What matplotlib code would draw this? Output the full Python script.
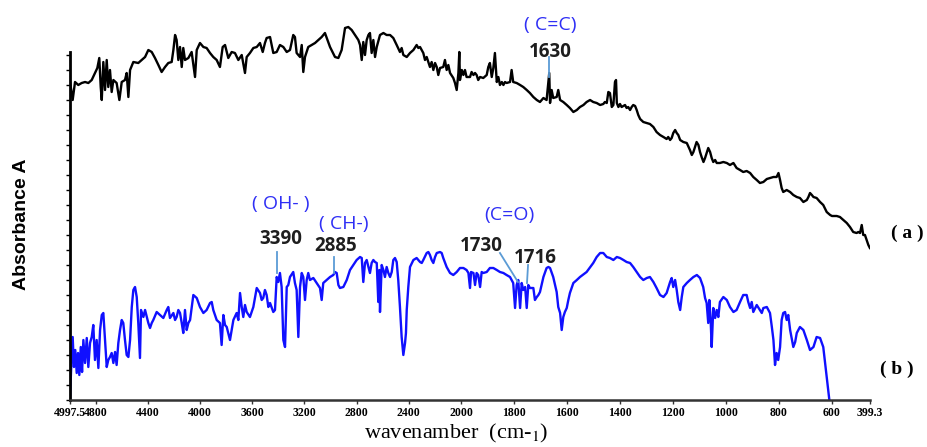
import numpy as np
import matplotlib
matplotlib.use("Agg")
import matplotlib.pyplot as plt

# FTIR spectra, absorbance in arbitrary units (a: black, b: blue)
wn_a = [4997, 4977, 4959, 4934, 4908, 4882, 4857, 4831, 4806, 4788, 4773, 4762, 4754, 4742, 4729, 4716,
        4704, 4691, 4678, 4665, 4640, 4619, 4601, 4576, 4563, 4550, 4537, 4512, 4474, 4448, 4422, 4397,
        4371, 4346, 4320, 4295, 4269, 4244, 4218, 4205, 4192, 4180, 4167, 4154, 4141, 4129, 4116, 4090,
        4065, 4039, 4026, 4001, 3975, 3950, 3924, 3899, 3873, 3848, 3827, 3809, 3784, 3758, 3733, 3707,
        3681, 3656, 3643, 3618, 3592, 3566, 3541, 3520, 3503, 3490, 3464, 3439, 3413, 3388, 3362, 3336,
        3311, 3286, 3273, 3260, 3234, 3221, 3209, 3196, 3171, 3145, 3119, 3094, 3068, 3043, 3004, 2966,
        2940, 2915, 2889, 2864, 2838, 2813, 2787, 2774, 2761, 2749, 2736, 2723, 2710, 2698, 2685, 2672,
        2659, 2646, 2621, 2595, 2570, 2544, 2519, 2493, 2468, 2455, 2442, 2416, 2391, 2365, 2340, 2327,
        2314, 2289, 2276, 2263, 2238, 2225, 2212, 2199, 2186, 2174, 2161, 2136, 2123, 2110, 2097, 2084,
        2059, 2046, 2033, 2020, 2013, 2008, 1997, 1991, 1985, 1979, 1966, 1960, 1953, 1947, 1941, 1935,
        1928, 1916, 1903, 1897, 1891, 1884, 1878, 1872, 1868, 1865, 1859, 1853, 1846, 1840, 1834, 1828,
        1815, 1809, 1803, 1790, 1777, 1765, 1752, 1740, 1727, 1714, 1702, 1689, 1677, 1667, 1664, 1658,
        1652, 1639, 1633, 1626, 1614, 1601, 1589, 1576, 1563, 1551, 1538, 1526, 1513, 1501, 1488, 1475,
        1463, 1457, 1450, 1444, 1438, 1431, 1425, 1419, 1415, 1412, 1406, 1400, 1394, 1381, 1375, 1369,
        1362, 1356, 1350, 1343, 1337, 1331, 1324, 1312, 1299, 1287, 1274, 1262, 1249, 1236, 1224, 1218,
        1211, 1205, 1199, 1192, 1186, 1180, 1173, 1161, 1148, 1136, 1129, 1123, 1117, 1111, 1104, 1098,
        1092, 1085, 1079, 1073, 1067, 1060, 1054, 1048, 1041, 1035, 1023, 1010, 997, 985, 972, 960,
        947, 935, 922, 909, 897, 884, 872, 859, 846, 834, 821, 809, 802, 796, 790, 784,
        771, 758, 746, 733, 721, 708, 695, 689, 683, 676, 670, 658, 645, 633, 620, 607,
        600, 593, 575, 558, 540, 522, 505, 488, 470, 461, 452, 443, 435, 426, 417, 408, 400]
abs_a = [318, 300, 318, 315, 317, 318, 317, 320, 327, 332, 342, 313, 300, 338, 310, 340,
         313, 330, 308, 320, 317, 300, 318, 320, 327, 303, 330, 338, 337, 340, 343, 350,
         348, 342, 335, 328, 333, 337, 338, 350, 365, 360, 340, 353, 333, 352, 340, 342,
         348, 323, 350, 357, 353, 352, 347, 343, 340, 333, 353, 355, 342, 348, 347, 340,
         345, 327, 343, 347, 352, 353, 357, 348, 357, 362, 363, 347, 348, 355, 353, 348,
         350, 365, 363, 347, 343, 355, 328, 343, 353, 355, 357, 360, 363, 367, 353, 343,
         342, 350, 372, 373, 370, 365, 360, 355, 340, 358, 345, 360, 365, 367, 347, 360,
         343, 353, 365, 367, 365, 365, 362, 355, 348, 352, 345, 343, 347, 350, 355, 352,
         353, 347, 340, 343, 333, 338, 330, 337, 333, 325, 332, 333, 340, 330, 335, 327,
         322, 317, 310, 327, 348, 320, 330, 325, 330, 323, 323, 328, 325, 327, 325, 320,
         323, 322, 325, 333, 337, 323, 332, 347, 330, 318, 323, 315, 318, 315, 318, 317,
         318, 330, 318, 317, 315, 313, 310, 307, 303, 300, 298, 302, 300, 327, 297, 310,
         302, 303, 310, 300, 298, 295, 292, 288, 290, 293, 295, 298, 300, 298, 297, 295,
         296, 298, 297, 308, 307, 293, 295, 318, 320, 297, 293, 296, 293, 295, 292, 293,
         290, 293, 295, 294, 290, 285, 281, 278, 277, 276, 273, 268, 265, 263, 261, 263,
         260, 262, 267, 270, 267, 265, 260, 258, 257, 250, 245, 248, 253, 258, 255, 248,
         243, 238, 242, 247, 252, 248, 242, 238, 240, 237, 237, 238, 237, 235, 237, 232,
         230, 228, 229, 227, 223, 220, 217, 218, 221, 222, 223, 223, 227, 220, 212, 208,
         210, 208, 205, 203, 202, 198, 200, 203, 207, 205, 203, 202, 198, 195, 188, 185,
         184, 184, 184, 183, 180, 177, 173, 168, 167, 168, 167, 175, 165, 165, 160, 155, 152]

wn_b = [4997.5, 4990, 4977, 4967, 4957, 4946, 4936, 4926, 4915, 4905, 4895, 4882, 4869, 4857, 4844, 4831,
        4819, 4806, 4793, 4780, 4767, 4754, 4742, 4729, 4716, 4704, 4691, 4678, 4665, 4652, 4640, 4627,
        4614, 4601, 4589, 4576, 4563, 4550, 4537, 4524, 4512, 4499, 4486, 4474, 4461, 4453, 4435, 4422,
        4409, 4397, 4384, 4371, 4359, 4333, 4307, 4282, 4256, 4244, 4231, 4205, 4192, 4180, 4167, 4154,
        4141, 4129, 4116, 4103, 4090, 4077, 4052, 4026, 4001, 3975, 3950, 3924, 3911, 3899, 3873, 3848,
        3835, 3822, 3809, 3796, 3771, 3758, 3745, 3720, 3707, 3694, 3681, 3669, 3656, 3643, 3618, 3592,
        3566, 3541, 3528, 3516, 3503, 3490, 3477, 3464, 3439, 3426, 3413, 3401, 3388, 3375, 3362, 3349,
        3336, 3324, 3311, 3286, 3273, 3260, 3247, 3234, 3221, 3209, 3196, 3183, 3171, 3158, 3132, 3106,
        3081, 3068, 3056, 3030, 3004, 2979, 2966, 2953, 2940, 2928, 2902, 2876, 2851, 2825, 2800, 2774,
        2761, 2749, 2736, 2723, 2710, 2698, 2685, 2672, 2659, 2646, 2634, 2626, 2621, 2608, 2595, 2583,
        2570, 2557, 2544, 2531, 2519, 2506, 2493, 2481, 2468, 2455, 2442, 2429, 2422, 2416, 2404, 2391,
        2365, 2340, 2314, 2301, 2289, 2263, 2250, 2238, 2225, 2212, 2199, 2186, 2161, 2148, 2136, 2110,
        2084, 2059, 2033, 2008, 1991, 1979, 1972, 1966, 1962, 1953, 1947, 1941, 1935, 1928, 1922, 1916,
        1903, 1891, 1878, 1865, 1853, 1840, 1828, 1815, 1803, 1796, 1790, 1784, 1777, 1771, 1765, 1758,
        1752, 1746, 1740, 1727, 1721, 1714, 1708, 1702, 1689, 1677, 1670, 1664, 1652, 1639, 1633, 1626,
        1620, 1614, 1608, 1601, 1595, 1589, 1576, 1563, 1551, 1526, 1501, 1488, 1475, 1463, 1450, 1438,
        1425, 1412, 1400, 1387, 1375, 1362, 1350, 1337, 1324, 1312, 1299, 1287, 1274, 1262, 1249, 1236,
        1224, 1211, 1205, 1199, 1192, 1186, 1180, 1173, 1167, 1161, 1148, 1136, 1123, 1110, 1098, 1086,
        1079, 1073, 1067, 1063, 1058, 1054, 1048, 1041, 1035, 1029, 1023, 1010, 997, 985, 972, 960,
        947, 935, 922, 916, 909, 903, 897, 884, 872, 865, 859, 846, 834, 827, 821, 815,
        809, 803, 796, 790, 784, 777, 771, 765, 758, 746, 739, 733, 721, 708, 695, 683,
        670, 658, 645, 633, 620, 614, 610]
abs_b = [2, 27, 63, 33, 50, 27, 47, 25, 53, 28, 60, 37, 62, 33, 57, 63,
         75, 40, 60, 32, 70, 85, 87, 60, 33, 40, 43, 47, 37, 48, 35, 57,
         70, 80, 77, 60, 45, 43, 60, 93, 110, 113, 103, 77, 42, 90, 83, 90,
         83, 77, 72, 77, 80, 88, 85, 82, 90, 93, 82, 87, 80, 83, 90, 87,
         77, 67, 90, 70, 77, 80, 105, 102, 93, 87, 90, 97, 98, 90, 80, 77,
         55, 85, 75, 73, 60, 70, 80, 87, 80, 107, 93, 83, 95, 88, 83, 93,
         112, 107, 100, 102, 110, 105, 93, 97, 88, 90, 123, 118, 127, 113, 60, 53,
         113, 115, 123, 128, 117, 110, 63, 113, 127, 123, 100, 120, 127, 120, 122, 117,
         112, 100, 117, 120, 123, 125, 128, 127, 115, 112, 113, 120, 130, 135, 140, 143,
         142, 118, 137, 140, 133, 127, 137, 140, 138, 137, 98, 130, 88, 135, 130, 123,
         133, 127, 123, 128, 140, 142, 138, 120, 93, 63, 45, 57, 67, 90, 113, 133,
         140, 142, 138, 137, 140, 147, 148, 145, 140, 137, 143, 147, 148, 147, 142, 133,
         127, 125, 128, 132, 132, 130, 127, 112, 128, 127, 115, 127, 125, 113, 128, 127,
         128, 132, 132, 130, 128, 127, 125, 123, 117, 92, 115, 120, 92, 117, 110, 113,
         92, 115, 112, 112, 100, 103, 105, 108, 123, 132, 133, 132, 123, 108, 93, 87,
         70, 83, 88, 92, 100, 107, 117, 120, 123, 128, 137, 143, 147, 147, 143, 142,
         140, 143, 142, 140, 138, 137, 133, 128, 123, 120, 122, 123, 118, 112, 105, 103,
         107, 118, 122, 113, 120, 110, 98, 90, 103, 113, 117, 120, 123, 125, 122, 113,
         102, 97, 77, 100, 80, 53, 92, 82, 90, 83, 98, 103, 100, 93, 88, 90,
         98, 105, 105, 98, 92, 98, 88, 95, 90, 87, 92, 93, 87, 73, 60, 35,
         47, 40, 53, 80, 87, 88, 80, 85, 70, 53, 58, 67, 73, 70, 60, 50,
         53, 63, 62, 53, 23, 10, 0]

tick_vals = [4997.5, 4800, 4400, 4000, 3600, 3200, 2800, 2400, 2000,
             1800, 1600, 1400, 1200, 1000, 800, 600, 399.3]
tick_labels = ["4997.5", "4800", "4400", "4000", "3600", "3200", "2800", "2400", "2000",
               "1800", "1600", "1400", "1200", "1000", "800", "600", "399.3"]


# instrument axis: 400 cm-1 per division above 2000, 200 below
def fwd(w):
    w = np.asarray(w, dtype=float)
    return np.where(w < 600, (w - 399.3) * 38 / 200.7,
                    np.where(w < 2000, 38 + (w - 600) * 371 / 1400,
                             409 + (w - 2000) * 391 / 2997.5))


def inv(p):
    p = np.asarray(p, dtype=float)
    return np.where(p < 38, 399.3 + p * 200.7 / 38,
                    np.where(p < 409, 600 + (p - 38) * 1400 / 371,
                             2000 + (p - 409) * 2997.5 / 391))


plt.rcParams["mathtext.fontset"] = "stix"

fig = plt.figure(figsize=(9.27, 4.47), dpi=100)
ax = fig.add_axes([70 / 927, 47 / 447, 800 / 927, 400 / 447])

ax.plot(wn_a, abs_a, color="black", lw=1.7)
ax.plot(wn_b, abs_b, color="#1010ff", lw=1.7)

ax.set_xscale("function", functions=(fwd, inv))
ax.set_xlim(4997.5, 399.3)
ax.set_ylim(0, 400)

ax.set_xticks(tick_vals)
ax.set_xticklabels(tick_labels, family="Liberation Serif", fontsize=8.5, fontweight="bold")
ax.set_yticks(np.arange(0, 350, 15))
ax.set_yticklabels([])
ax.tick_params(axis="x", direction="out", length=3, width=1, pad=2, color="#333333")
ax.tick_params(axis="y", direction="out", length=3, width=1)

for s in ["top", "right"]:
    ax.spines[s].set_visible(False)
ax.spines["left"].set_bounds(0, 348)
ax.spines["left"].set_linewidth(2)
ax.spines["bottom"].set_linewidth(1.8)
ax.spines["bottom"].set_color("#333333")

# peak annotations
blue_txt = "#2f2ff5"
lead = "#5b9bd5"
num_font = dict(family="Open Sans", fontsize=13.5, fontweight="bold", color="#1e1e1e",
                ha="center", va="center")
grp_font = dict(family="Open Sans", fontsize=14, color=blue_txt, ha="center", va="center")

ax.text(1664, 375, "( C=C)", **grp_font)
ax.text(1664, 348, "1630", **num_font)
ax.plot([1668, 1668], [343, 323], color=lead, lw=1.3)

ax.text(3380, 196, "( OH- )", **grp_font)
ax.text(3380, 161, "3390", **num_font)
ax.plot([3411, 3411], [148, 127], color=lead, lw=1.3)

ax.text(2897, 176, "( CH-)", **grp_font)
ax.text(2958, 154, "2885", **num_font)
ax.plot([2974, 2974], [143, 127], color=lead, lw=1.3)

ax.text(1819, 185, "(C=O)", **grp_font)
ax.text(1925, 154, "1730", **num_font)
ax.text(1721, 142, "1716", **num_font)
ax.plot([1853, 1785], [147, 118], color=lead, lw=1.3)
ax.plot([1747, 1751], [135, 117], color=lead, lw=1.3)

fig.text(907 / 927, 1 - 233 / 447, "( a )", family="Liberation Serif", fontsize=14,
         fontweight="bold", ha="center", va="center")
fig.text(897 / 927, 1 - 369 / 447, "( b )", family="Liberation Serif", fontsize=14,
         fontweight="bold", ha="center", va="center")

fig.text(456 / 927, 1 - 433 / 447, "wavenamber  (cm-$_{1}$)", family="Liberation Serif",
         fontsize=16, ha="center", va="center")
fig.text(22 / 927, 1 - 224 / 447, "Absorbance A", family=["Liberation Sans Narrow", "Liberation Sans"],
         fontsize=14, fontweight="bold", rotation=90, ha="center", va="center")

fig.savefig("out.png", dpi=100)
